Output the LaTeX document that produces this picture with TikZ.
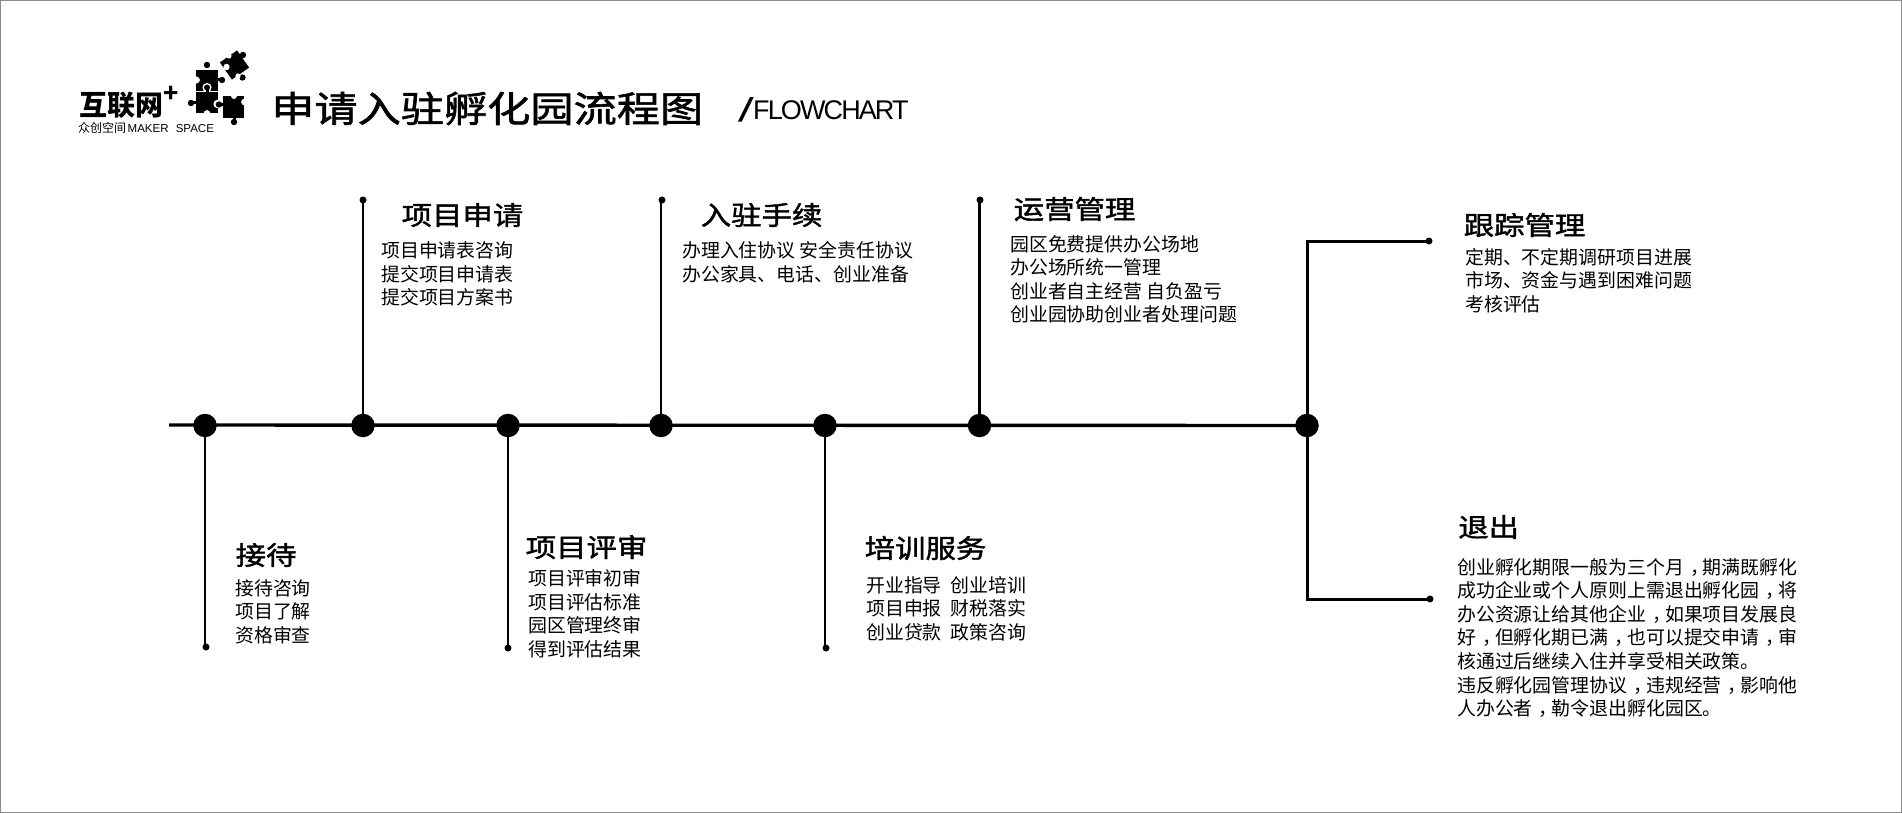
\documentclass[tikz,border=0pt]{standalone}
\usepackage{fontspec}
\setmainfont{Noto Sans CJK SC}
\newfontfamily\ttlfont[FakeStretch=1.17,FakeBold=1.6]{Noto Sans CJK SC}
\newfontfamily\bigfont[FakeStretch=1.2,FakeBold=1.6]{Noto Sans CJK SC}
\newfontfamily\latfont[LetterSpace=-7]{Liberation Sans}
\newfontfamily\subfont{Liberation Sans}
\newcommand{\midcomma}{\hspace*{6pt}，\hspace*{-6pt}}
\tikzset{
  x=1pt,y=-1pt,
  hub/.style={circle,fill=black,inner sep=0,minimum size=23.5pt},
  tipdot/.style={circle,fill=black,inner sep=0,minimum size=7pt},
  axisline/.style={line width=3.4pt,black},
  stem/.style={line width=2.8pt,black},
  arm/.style={line width=3pt,black},
  ttl/.style={inner sep=0,anchor=west,font=\ttlfont\fontsize{26}{30}\selectfont},
  bodytxt/.style={inner sep=0,anchor=north west,align=left,font=\fontsize{18.9}{23.6}\selectfont},
}
\begin{document}
\begin{tikzpicture}
\useasboundingbox (0,0) rectangle (1902,813);
\draw[line width=1.2pt,black!45] (0.6,0.6) rectangle (1901.4,812.4);
% logo: puzzle pieces
\fill[rotate around={35:(234.5,65)}] (224,54.5) rectangle (245,75.5);
\fill (243,55) circle (3.2);
\fill (242.5,77.5) circle (3.2);
\fill[white] (226.5,67) circle (3.2);
\fill[white] (229,56) circle (2.6);
\fill[white] (238,76) circle (2.6);
\fill (196,70) rectangle (218,91);
\fill (207,65) circle (3.2);
\fill (222,80) circle (3.2);
\fill (218,78.5) rectangle (221,81.5);
\fill[white] (196.5,80) circle (3.4);
\fill[white] (207,87.5) circle (4.6);
\fill (207,87.5) circle (3);
\fill (196,92) rectangle (218,113);
\fill (205.5,89) rectangle (208.5,92);
\fill (191,103) circle (3.2);
\fill (193,101.5) rectangle (196,104.5);
\fill[white] (217.5,104) circle (4.2);
\fill[white] (207,113.5) circle (3.4);
\fill (223,96) rectangle (244,118);
\fill (219,104.5) circle (3.2);
\fill (220,103) rectangle (224,106);
\fill (234,122) circle (3.2);
\fill (232.5,117) rectangle (235.5,120);
\fill[white] (244.5,102) circle (3.4);
\fill[white] (234,96) circle (3);
\node[inner sep=0,anchor=west,font=\bfseries\fontsize{28}{30}\selectfont] (logo) at (79,105) {互联网};
\node[inner sep=0,font=\bfseries\fontsize{25}{25}\selectfont] (plus) at (171,94) {+};
\node[inner sep=0,anchor=west,font=\fontsize{12}{14}\selectfont] (sub) at (78,128) {众创空间\hspace{1.5pt}\subfont\fontsize{11.5}{14}\selectfont MAKER\hspace{4pt} SPACE};
% title
\node[inner sep=0,anchor=west,font=\bigfont\fontsize{36}{40}\selectfont] (maintitle) at (271,108.5) {申请入驻孵化园流程图};
\node[inner sep=0,xslant=0.3,transform shape,font=\subfont\bfseries\fontsize{33}{33}\selectfont] (slash) at (746,110) {/};
\node[inner sep=0,anchor=west,font=\latfont\fontsize{27}{30}\selectfont] (flow) at (753,110) {FLOWCHART};
% hubs
\coordinate (start) at (169,425);
\node[hub] (h1) at (205,425.5) {};
\node[hub] (h2) at (363,425.5) {};
\node[hub] (h3) at (508,425.5) {};
\node[hub] (h4) at (661,425.5) {};
\node[hub] (h5) at (825,425.5) {};
\node[hub] (h6) at (979.5,425.5) {};
\node[hub] (h7) at (1307,425.5) {};
\node[tipdot] (t1) at (206,647) {};
\node[tipdot] (t2) at (363,200) {};
\node[tipdot] (t3) at (508,648) {};
\node[tipdot] (t4) at (662,200) {};
\node[tipdot] (t5) at (826,648) {};
\node[tipdot] (t6) at (980,200) {};
\node[tipdot] (t7) at (1429,241) {};
\node[tipdot] (t8) at (1430,599) {};
\draw[axisline] (start) -- (h7.center);
\foreach \a/\b in {h1/t1,h2/t2,h3/t3,h4/t4,h5/t5,h6/t6} \draw[stem] (\a.center) -- (\a.center |- \b.center);
\draw[arm,line cap=rect] (h7.center) |- (t7.center);
\draw[arm] (h7.center) |- (t8.center);
% titles
\node[ttl] (n1) at (235.5,555) {接待};
\node[ttl] (n2) at (401.5,215) {项目申请};
\node[ttl] (n3) at (525.5,547) {项目评审};
\node[ttl] (n4) at (700.5,215) {入驻手续};
\node[ttl] (n5) at (864.5,548) {培训服务};
\node[ttl] (n6) at (1013.5,209) {运营管理};
\node[ttl] (n7) at (1463.5,225) {跟踪管理};
\node[ttl] (n8) at (1458,527) {退出};
% bodies
\node[bodytxt] (b1) at (235,579) {接待咨询\\项目了解\\资格审查};
\node[bodytxt] (b2) at (381,241.5) {项目申请表咨询\\提交项目申请表\\提交项目方案书};
\node[bodytxt] (b3) at (528,569.5) {项目评审初审\\项目评估标准\\园区管理终审\\得到评估结果};
\node[bodytxt] (b4) at (682,241.5) {办理入住协议 安全责任协议\\办公家具、电话、创业准备};
\node[bodytxt] (b5) at (866,576) {开业指导\hspace{9pt}创业培训\\项目申报\hspace{9pt}财税落实\\创业贷款\hspace{9pt}政策咨询};
\node[bodytxt] (b6) at (1010,235) {园区免费提供办公场地\\办公场所统一管理\\创业者自主经营 自负盈亏\\创业园协助创业者处理问题};
\node[bodytxt] (b7) at (1465,248) {定期、不定期调研项目进展\\市场、资金与遇到困难问题\\考核评估};
\node[bodytxt] (b8) at (1457,558) {创业孵化期限一般为三个月\midcomma 期满既孵化\\成功企业或个人原则上需退出孵化园\midcomma 将\\办公资源让给其他企业\midcomma 如果项目发展良\\好\midcomma 但孵化期已满\midcomma 也可以提交申请\midcomma 审\\核通过后继续入住并享受相关政策。\\违反孵化园管理协议\midcomma 违规经营\midcomma 影响他\\人办公者\midcomma 勒令退出孵化园区。};
\end{tikzpicture}
\end{document}
